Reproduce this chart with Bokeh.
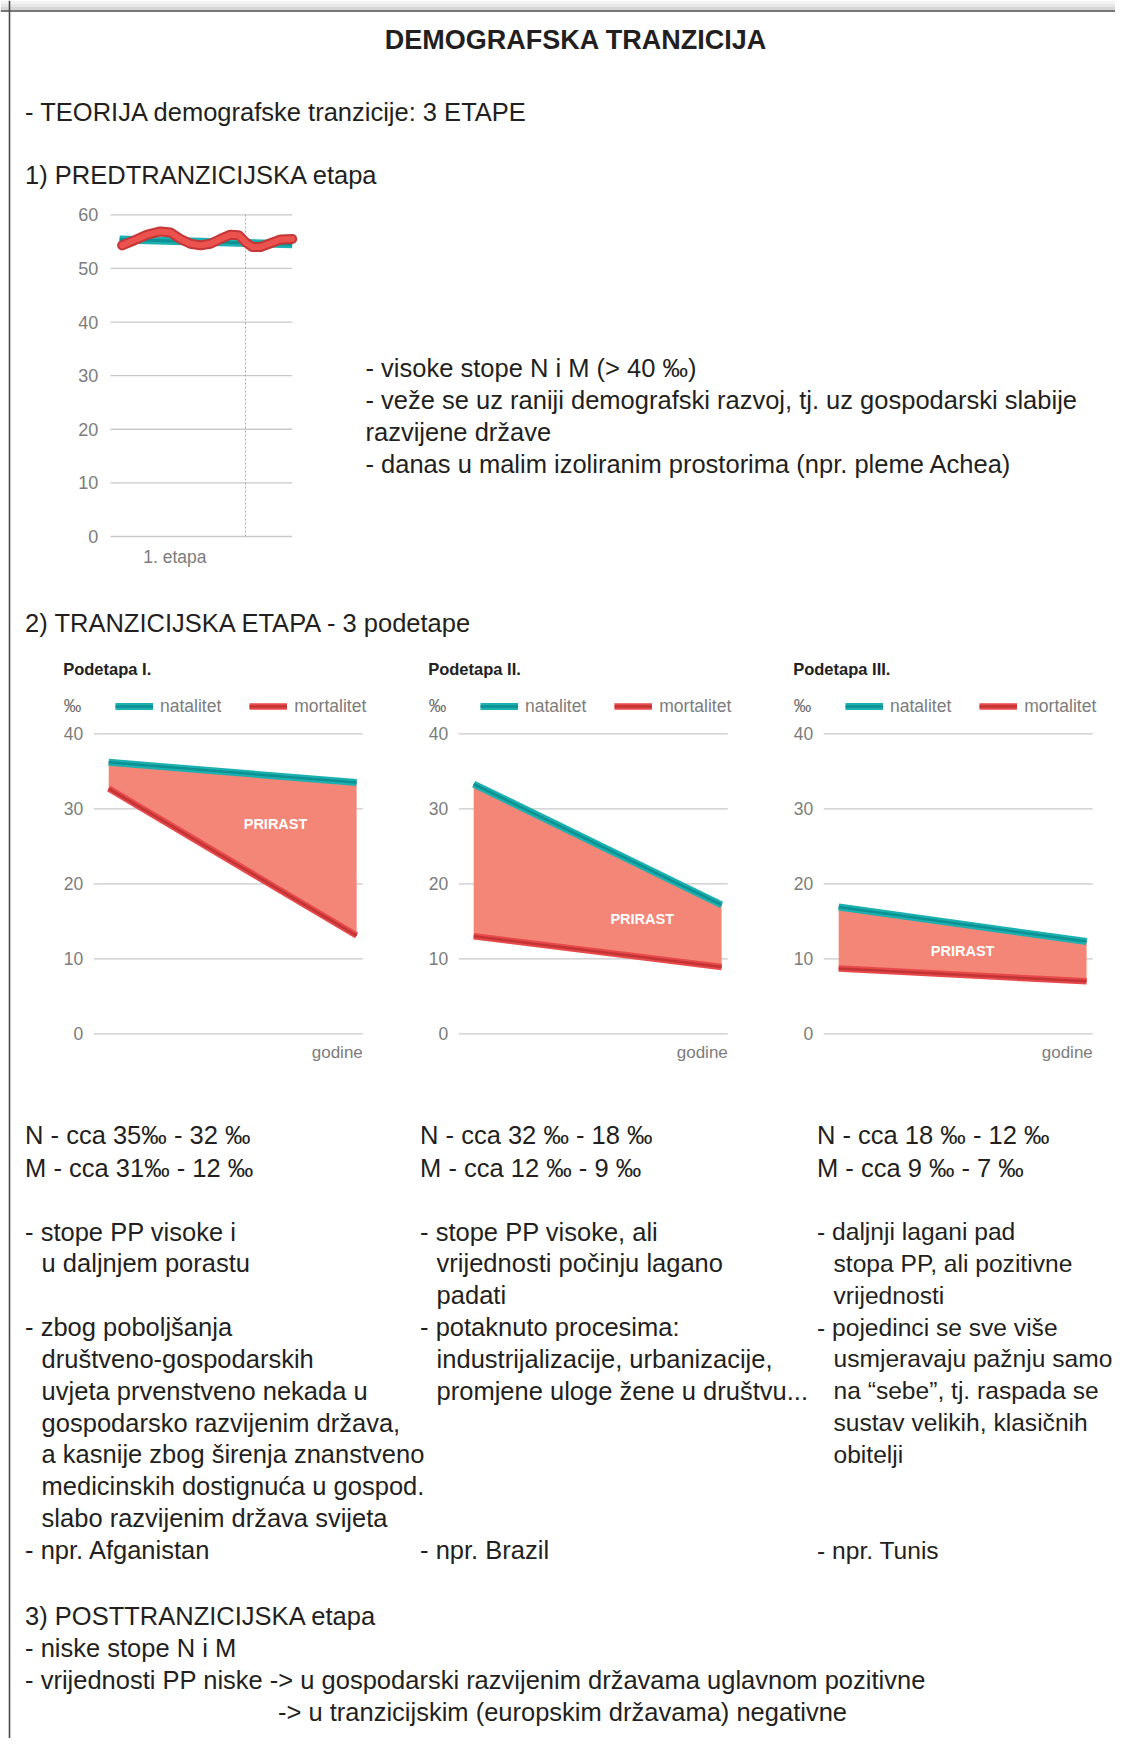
from bokeh.plotting import figure
from bokeh.models import Range1d, Span, Legend, LegendItem
from bokeh.core.properties import value
from bokeh.embed import file_html
from bokeh.resources import INLINE

# ---------------- texts ----------------
TITLE = "DEMOGRAFSKA TRANZICIJA"
INTRO = "- TEORIJA demografske tranzicije: 3 ETAPE"
STAGE1_HEAD = "1) PREDTRANZICIJSKA etapa"
STAGE1_NOTES = [
    "- visoke stope N i M (> 40 ‰)",
    "- veže se uz raniji demografski razvoj, tj. uz gospodarski slabije",
    "razvijene države",
    "- danas u malim izoliranim prostorima (npr. pleme Achea)",
]
STAGE2_HEAD = "2) TRANZICIJSKA ETAPA - 3 podetape"
SUB_TITLES = ["Podetapa I.", "Podetapa II.", "Podetapa III."]
SERIES = ["natalitet", "mortalitet"]
UNIT = "‰"
X_LABEL = "godine"
AREA_LABEL = "PRIRAST"
RATES = [
    ["N - cca 35‰ - 32 ‰", "M - cca 31‰ - 12 ‰"],
    ["N - cca 32 ‰ - 18 ‰", "M - cca 12 ‰ - 9 ‰"],
    ["N - cca 18 ‰ - 12 ‰", "M - cca 9 ‰ - 7 ‰"],
]
NOTES = [
    ["- stope PP visoke i", "u daljnjem porastu", "", "- zbog poboljšanja",
     "društveno-gospodarskih", "uvjeta prvenstveno nekada u",
     "gospodarsko razvijenim država,", "a kasnije zbog širenja znanstveno",
     "medicinskih dostignuća u gospod.", "slabo razvijenim država svijeta",
     "- npr. Afganistan"],
    ["- stope PP visoke, ali", "vrijednosti počinju lagano", "padati",
     "- potaknuto procesima:", "industrijalizacije, urbanizacije,",
     "promjene uloge žene u društvu...", "", "", "", "", "- npr. Brazil"],
    ["- daljnji lagani pad", "stopa PP,  ali pozitivne", "vrijednosti",
     "- pojedinci se sve više", "usmjeravaju pažnju samo",
     "na “sebe”, tj. raspada se", "sustav velikih, klasičnih", "obitelji",
     "", "", "- npr. Tunis"],
]
STAGE3_LINES = [
    "3) POSTTRANZICIJSKA etapa",
    "- niske stope N i M",
    "- vrijednosti PP niske -> u gospodarski razvijenim državama uglavnom pozitivne",
    "-> u tranzicijskim (europskim državama) negativne",
]

# ---------------- data ----------------
STAGE1_CATEGORY = ["1. etapa"]
STAGE1_TICKS = [0, 10, 20, 30, 40, 50, 60]
STAGE1_T_NAT = [5, 100]
STAGE1_NAT = [55.4, 54.5]
STAGE1_T_MORT = [6.4, 12.8, 20.2, 27.5, 33.0, 38.5, 44.0, 49.5, 55.0,
                 60.5, 66.0, 70.6, 74.3, 78.0, 82.6, 88.1, 93.6, 100]
STAGE1_MORT = [54.3, 55.2, 56.3, 56.9, 56.7, 55.5, 54.6, 54.3, 54.6,
               55.5, 56.3, 56.2, 54.9, 54.0, 54.0, 54.7, 55.4, 55.5]
STAGE1_CAT_POS = [35.4]
STAGE1_DIVIDER = [74.3]

SUB_TICKS = [0, 10, 20, 30, 40]
GODINE = [0, 1]
NATALITET = [[36.2, 33.5], [33.3, 17.2], [16.9, 12.3]]
MORTALITET = [[32.7, 13.1], [13.0, 8.9], [8.7, 7.0]]

# ---------------- layout / style ----------------
PAGE_W, PAGE_H = 1131, 1754
W, H = PAGE_W - 16, PAGE_H - 16

BODY = "Liberation Sans"
INK = "#231f20"
GREY = "#7c7c7c"
GRID = "#c9c9c9"
TEAL, TEAL_D = "#1cb0b0", "#0b9192"
RED, RED_D = "#e8494a", "#c23435"
FILL = "#f38676"

p = figure(width=W, height=H, x_range=Range1d(0, W), y_range=Range1d(H, 0),
           x_axis_type=None, y_axis_type=None, output_backend="svg",
           toolbar_location=None, min_border=0)
p.outline_line_color = None
p.background_fill_color = "white"
p.border_fill_color = "white"

# page frame: soft shadow on top, then left and top border
for yy, cc in [(2, "#f3f3f3"), (5, "#e7e7e7"), (8, "#d6d6d6")]:
    p.add_layout(Span(location=yy, dimension="width", line_color=cc, line_width=3))
p.add_layout(Span(location=10.5, dimension="width", line_color="#4a4a4a", line_width=1.6))
p.add_layout(Span(location=9, dimension="height", line_color="#4a4a4a", line_width=1.6))

xr, yr = {}, {}


def add_box(name, L, R, T, B, xd, yd):
    sx = (R - L) / (xd[1] - xd[0])
    xs = xd[0] - L / sx
    xr[name] = Range1d(xs, xs + W / sx)
    sy = (B - T) / (yd[1] - yd[0])
    ys = yd[0] - (H - B) / sy
    yr[name] = Range1d(ys, ys + H / sy)


def page_text(xs, ys, texts, size, color=INK, style="normal", align="left"):
    p.text(x=xs, y=ys, text=texts, text_font=value(BODY),
           text_font_size=value(f"{size}px"), text_font_style=style,
           text_color=color, text_align=align, text_baseline="middle")


add_box("s1", 110, 291.7, 214.3, 536, (0, 100), (0, 60))
SUB_DX = 365
for i in range(3):
    add_box(f"c{i}", 93.3 + SUB_DX * i, 362.3 + SUB_DX * i, 733.3, 1033.3,
            (-0.06, 1.025), (0, 40))
p.extra_x_ranges = xr
p.extra_y_ranges = yr

# ---------------- header texts ----------------
page_text([575.6], [39], [TITLE], 27, style="bold", align="center")
page_text([24.6], [111], [INTRO], 25.5)
page_text([24.6], [174], [STAGE1_HEAD], 25.5)
page_text([365] * len(STAGE1_NOTES), [367 + 32 * k for k in range(len(STAGE1_NOTES))],
          STAGE1_NOTES, 25.5)

# ---------------- stage 1 chart ----------------
kw = dict(x_range_name="s1", y_range_name="s1")
n = len(STAGE1_TICKS)
p.segment(x0=[0] * n, x1=[100] * n, y0=STAGE1_TICKS, y1=STAGE1_TICKS,
          line_color=GRID, line_width=1.3, **kw)
p.segment(x0=STAGE1_DIVIDER, x1=STAGE1_DIVIDER, y0=[0], y1=[STAGE1_TICKS[-1]],
          line_color="#a8a8a8", line_width=1, line_dash="2 2", **kw)
p.text(x=[0] * n, y=STAGE1_TICKS, text=[str(t) for t in STAGE1_TICKS],
       text_font=value(BODY), text_font_size=value("18px"), text_color=GREY,
       text_align="right", text_baseline="middle", x_offset=-12.3, **kw)
p.text(x=STAGE1_CAT_POS, y=[0], text=STAGE1_CATEGORY, text_font=value(BODY),
       text_font_size=value("17.5px"), text_color=GREY, text_align="center",
       text_baseline="middle", y_offset=20, **kw)
p.line(STAGE1_T_NAT, STAGE1_NAT, line_color=TEAL, line_width=8, **kw)
p.line(STAGE1_T_NAT, STAGE1_NAT, line_color=TEAL_D, line_width=3, **kw)
p.line(STAGE1_T_MORT, STAGE1_MORT, line_color="#c53737", line_width=10,
       line_join="round", line_cap="round", **kw)
p.line(STAGE1_T_MORT, STAGE1_MORT, line_color="#ec524e", line_width=6,
       line_join="round", line_cap="round", **kw)

# ---------------- stage 2 ----------------
page_text([24.6], [622.7], [STAGE2_HEAD], 25.5)

PRIRAST_POS = [(0.673, 28.0), (0.68, 15.3), (0.5, 11.0)]
for i in range(3):
    name = f"c{i}"
    kw = dict(x_range_name=name, y_range_name=name)
    dx = SUB_DX * i
    page_text([62.7 + dx], [668], [SUB_TITLES[i]], 16.5, style="bold",
              color="#222222")
    page_text([63.3 + dx], [705], [UNIT], 17.5, color="#6a6a6a")
    n = len(SUB_TICKS)
    p.segment(x0=[-0.06] * n, x1=[1.025] * n, y0=SUB_TICKS, y1=SUB_TICKS,
              line_color=GRID, line_width=1.3, **kw)
    p.text(x=[-0.06] * n, y=SUB_TICKS, text=[str(t) for t in SUB_TICKS],
           text_font=value(BODY), text_font_size=value("17.5px"), text_color=GREY,
           text_align="right", text_baseline="middle", x_offset=-10.6, **kw)
    p.text(x=[1.025], y=[0], text=[X_LABEL], text_font=value(BODY),
           text_font_size=value("17px"), text_color=GREY, text_align="right",
           text_baseline="middle", y_offset=18.7, **kw)
    p.varea(x=GODINE, y1=MORTALITET[i], y2=NATALITET[i], fill_color=FILL, **kw)
    n_o = p.line(GODINE, NATALITET[i], line_color=TEAL, line_width=7, **kw)
    n_i = p.line(GODINE, NATALITET[i], line_color=TEAL_D, line_width=2.5, **kw)
    m_o = p.line(GODINE, MORTALITET[i], line_color=RED, line_width=6.5, **kw)
    m_i = p.line(GODINE, MORTALITET[i], line_color=RED_D, line_width=2.5, **kw)
    px, py = PRIRAST_POS[i]
    p.text(x=[px], y=[py], text=[AREA_LABEL], text_font=value(BODY),
           text_font_size=value("14.5px"), text_font_style="bold", text_color="white",
           text_align="center", text_baseline="middle", **kw)
    leg = Legend(items=[LegendItem(label=value(SERIES[0]), renderers=[n_o, n_i]),
                        LegendItem(label=value(SERIES[1]), renderers=[m_o, m_i])],
                 location=(115 + dx, H - 705 - 11.5), orientation="horizontal",
                 padding=0, margin=0, spacing=28, label_standoff=7,
                 glyph_width=38, glyph_height=8, label_height=20,
                 label_text_font=BODY, label_text_font_size="17.5px",
                 label_text_color=GREY, background_fill_alpha=0,
                 border_line_alpha=0)
    p.add_layout(leg)

# rates and notes
COL_X = [24.6, 419.6, 816.5]
COL_SIZE = [25.5, 25.5, 24.6]
INDENT = 16.5
for i in range(3):
    page_text([COL_X[i]] * 2, [1134.5, 1167], RATES[i], 25.5)
    xs, ys, ts = [], [], []
    for r, line in enumerate(NOTES[i]):
        if not line:
            continue
        xs.append(COL_X[i] if line.startswith("- ") else COL_X[i] + INDENT)
        ys.append(1231 + 31.85 * r)
        ts.append(line)
    page_text(xs, ys, ts, COL_SIZE[i])

# stage 3
page_text([24.6, 24.6, 24.6, 277.5], [1615, 1647.5, 1679.5, 1711.5],
          STAGE3_LINES, 25.5)

open("out.html", "w").write(file_html(p, INLINE))
